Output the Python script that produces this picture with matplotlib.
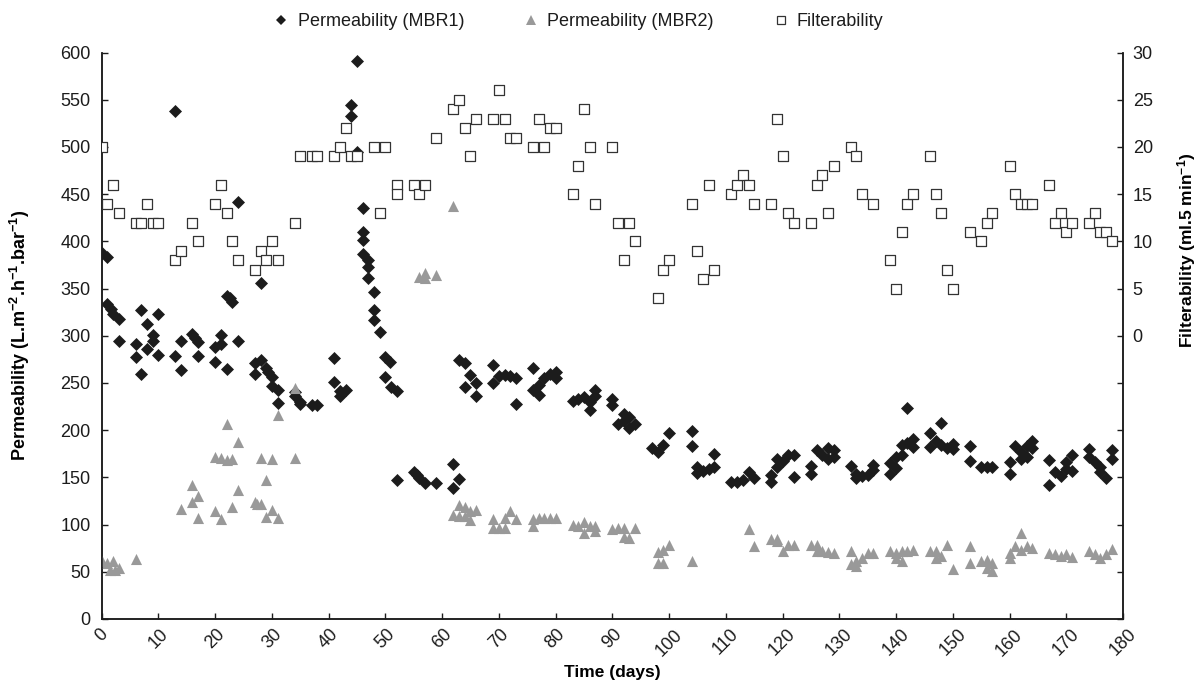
#!/usr/bin/env python3
"""Permeability of both MBRs and sludge filterability over the run."""

import matplotlib

matplotlib.use("Agg")
import matplotlib.pyplot as plt
from matplotlib.lines import Line2D


INK = "#1c1c1c"
GREY = "#999999"
SQUARE_EDGE = "#333333"
FONT = ["Liberation Sans", "DejaVu Sans"]

# Permeability, MBR1 (L.m-2.h-1.bar-1)
mbr1_day = [
    0, 1, 1, 1.6, 2, 3, 3, 6, 6, 7, 7, 8, 8, 9, 9, 10, 10, 13, 13, 14, 14,
    16, 16.4, 17, 17, 20, 20, 21, 21, 22, 22, 22.6, 23, 24, 24, 27, 27, 28,
    28, 29, 29.4, 30, 30, 31, 31, 34, 34, 35, 35, 37, 38, 41, 41, 42, 42, 43,
    44, 44, 45, 45, 46, 46, 46, 46, 47, 47, 47, 48, 48, 48, 49, 50, 50.8, 50,
    51, 52, 52, 55, 55.5, 56, 57, 59, 62, 63, 62, 63, 64, 65, 64, 66, 66, 69,
    69, 70, 71, 72, 73, 73, 76, 76, 77, 77, 78, 79, 80, 80, 83, 84, 85, 86,
    86, 87, 87, 90, 90, 91, 92, 92, 93, 93, 94, 97, 98, 99, 100, 104, 104,
    105, 105, 106, 107, 108, 108, 111, 112, 113, 114, 115, 118, 118, 119, 119,
    120, 121, 122, 122, 125, 125, 126, 127, 128, 128, 129, 129, 132, 133, 133,
    134, 135, 136, 136, 139, 139, 140, 140, 141, 141, 142, 142, 143, 143, 146,
    146, 147, 148, 148, 149, 150, 150, 153, 153, 155, 156, 157, 160, 160, 161,
    162, 162, 163, 163, 164, 164, 167, 167, 168, 169, 170, 170, 171, 171, 174,
    174, 175, 176, 176, 177, 178, 178,
]
mbr1_perm = [
    388, 383, 334, 328, 323, 318, 295, 291, 278, 327, 259, 312, 286, 301, 295,
    323, 280, 538, 279, 294, 264, 302, 298, 293, 279, 288, 272, 301, 291, 265,
    342, 340, 336, 442, 295, 271, 260, 356, 274, 266, 262, 256, 247, 243, 229,
    240, 236, 230, 228, 227, 227, 276, 251, 236, 241, 243, 545, 533, 591, 495,
    435, 410, 401, 387, 380, 373, 361, 346, 327, 317, 304, 278, 272, 256, 246,
    241, 147, 156, 152, 149, 144, 144, 164, 148, 139, 274, 271, 258, 246, 250,
    236, 269, 250, 257, 258, 257, 255, 228, 266, 243, 237, 248, 255, 260, 262,
    255, 231, 233, 235, 221, 230, 243, 236, 233, 227, 207, 217, 210, 214, 202,
    207, 181, 177, 184, 197, 199, 183, 161, 155, 157, 159, 161, 175, 145, 145,
    147, 156, 149, 145, 153, 161, 169, 167, 174, 174, 150, 162, 154, 179, 174,
    181, 170, 179, 172, 162, 154, 149, 151, 153, 163, 158, 165, 154, 172, 160,
    184, 174, 223, 186, 191, 182, 197, 182, 189, 208, 184, 181, 185, 180, 183,
    167, 161, 161, 161, 166, 154, 183, 177, 169, 183, 172, 189, 181, 168, 142,
    156, 151, 166, 159, 174, 157, 180, 172, 166, 161, 156, 149, 179, 169,
]

# Permeability, MBR2 (L.m-2.h-1.bar-1)
mbr2_day = [
    0, 1, 2, 1.5, 2.3, 3, 6, 14, 16, 16, 17, 17, 20, 20, 21, 21, 22, 22, 23,
    23, 24, 24, 27, 27.3, 28, 28, 29, 29, 30, 30, 31, 31, 34, 34, 56, 57, 57,
    59, 62, 62, 63, 63, 64, 64, 65, 65, 66, 69, 69, 70, 71, 71, 72, 73, 76,
    76, 77, 78, 79, 80, 83, 84, 85, 85, 86, 87, 87, 90, 91, 92, 92, 93, 94,
    98, 99, 100, 98, 99, 104, 114, 115, 118, 119, 119, 120, 121, 122, 125,
    126, 126, 127, 128, 129, 132, 132, 133, 133, 134, 135, 136, 139, 140, 140,
    141, 141, 142, 143, 146, 147, 147, 148, 149, 150, 153, 153, 155, 156, 156,
    157, 157, 160, 160, 161, 162, 162, 163, 164, 167, 168, 169, 170, 171, 174,
    175, 176, 177, 178,
]
mbr2_perm = [
    61, 59, 61, 52, 52, 54, 64, 116, 142, 124, 130, 107, 172, 114, 171, 106,
    207, 168, 170, 119, 187, 137, 124, 122, 122, 171, 147, 108, 170, 115, 107,
    216, 245, 171, 362, 366, 361, 364, 438, 110, 121, 109, 119, 109, 114, 105,
    115, 106, 96, 96, 107, 96, 114, 106, 106, 98, 107, 107, 107, 107, 100, 98,
    103, 91, 98, 99, 93, 95, 96, 96, 87, 86, 96, 71, 73, 78, 59, 59, 61, 95,
    77, 85, 85, 83, 72, 78, 78, 78, 78, 72, 72, 71, 70, 72, 58, 61, 56, 65,
    70, 70, 72, 70, 65, 72, 61, 72, 73, 72, 72, 65, 67, 78, 53, 77, 59, 61,
    63, 54, 59, 51, 70, 65, 77, 91, 73, 77, 75, 70, 69, 67, 69, 66, 72, 69,
    65, 69, 74,
]

# Filterability (ml.5 min-1)
filt_day = [
    0, 1, 2, 3, 6, 7, 8, 9, 10, 13, 14, 16, 17, 20, 21, 22, 23, 24, 27, 28,
    29, 30, 31, 34, 35, 37, 38, 41, 42, 43, 44, 45, 48, 49, 50, 52, 52, 55,
    56, 57, 59, 62, 63, 64, 65, 66, 69, 70, 71, 72, 73, 76, 77, 78, 79, 80,
    83, 84, 85, 86, 87, 90, 91, 92, 93, 94, 98, 99, 100, 104, 105, 106, 107,
    108, 111, 112, 113, 114, 115, 118, 119, 120, 121, 122, 125, 126, 127, 128,
    129, 132, 133, 134, 136, 139, 140, 141, 142, 143, 146, 147, 148, 149, 150,
    153, 155, 156, 157, 160, 161, 162, 163, 164, 167, 168, 169, 170, 171, 174,
    175, 176, 177, 178,
]
filt_value = [
    20, 14, 16, 13, 12, 12, 14, 12, 12, 8, 9, 12, 10, 14, 16, 13, 10, 8, 7, 9,
    8, 10, 8, 12, 19, 19, 19, 19, 20, 22, 19, 19, 20, 13, 20, 16, 15, 16, 15,
    16, 21, 24, 25, 22, 19, 23, 23, 26, 23, 21, 21, 20, 23, 20, 22, 22, 15,
    18, 24, 20, 14, 20, 12, 8, 12, 10, 4, 7, 8, 14, 9, 6, 16, 7, 15, 16, 17,
    16, 14, 14, 23, 19, 13, 12, 12, 16, 17, 13, 18, 20, 19, 15, 14, 8, 5, 11,
    14, 15, 19, 15, 13, 7, 5, 11, 10, 12, 13, 18, 15, 14, 14, 14, 16, 12, 13,
    11, 12, 12, 13, 11, 11, 10,
]

x_ticks = list(range(0, 181, 10))
left_ticks = list(range(0, 601, 50))
right_ticks = list(range(-30, 31, 5))


def style_axis(ax) -> None:
    for side in ("left", "bottom", "right"):
        ax.spines[side].set_color(INK)
        ax.spines[side].set_linewidth(1.1)
    ax.spines["top"].set_visible(False)
    ax.tick_params(direction="in", length=4, width=1.0, colors=INK, labelsize=13)


def main() -> None:
    plt.rcParams.update(
        {
            "font.family": FONT,
            "text.color": INK,
            "mathtext.fontset": "custom",
            "mathtext.rm": "Liberation Sans",
            "mathtext.bf": "Liberation Sans:bold",
        }
    )

    fig = plt.figure(figsize=(11.99, 6.82), dpi=100)
    ax = fig.add_axes([0.0848, 0.0924, 0.8518, 0.8305])

    ax.scatter(mbr1_day, mbr1_perm, marker="D", s=44, color=INK,
               linewidths=0, zorder=3)
    ax.scatter(mbr2_day, mbr2_perm, marker="^", s=64, color=GREY,
               linewidths=0, zorder=4)

    ax.set_xlim(0, 180)
    ax.set_ylim(0, 600)
    ax.set_xticks(x_ticks)
    ax.set_xticklabels([str(t) for t in x_ticks], rotation=45, ha="center")
    ax.set_yticks(left_ticks)
    style_axis(ax)
    ax.tick_params(axis="y", pad=8)
    ax.tick_params(axis="x", pad=5)
    ax.set_xlabel("Time (days)", fontsize=12.5, fontweight="bold", labelpad=4)
    ax.set_ylabel(
        r"Permeability (L.m$\mathbf{^{-2}}$.h$\mathbf{^{-1}}$.bar$\mathbf{^{-1}}$)",
        fontsize=13,
        fontweight="bold",
        labelpad=20,
    )

    # filterability sits on the upper half of the frame: 0-30 maps onto 300-600
    ax2 = ax.twinx()
    ax2.scatter(filt_day, filt_value, marker="s", s=46, facecolor="white",
                edgecolor=SQUARE_EDGE, linewidths=0.9, zorder=5)
    ax2.set_ylim(-30, 30)
    ax2.set_yticks(right_ticks)
    ax2.set_yticklabels([str(t) if t >= 0 else "" for t in right_ticks])
    style_axis(ax2)
    ax2.tick_params(axis="y", pad=7)
    ax2.set_ylabel(r"Filterability (ml.5 min$\mathbf{^{-1}}$)", fontsize=12.5,
                   fontweight="bold", rotation=90)
    ax2.yaxis.set_label_coords(1.051, 0.65)

    handles = [
        Line2D([], [], linestyle="none", marker="D", markersize=5,
               color=INK, markeredgewidth=0),
        Line2D([], [], linestyle="none", marker="^", markersize=6.5,
               color=GREY, markeredgewidth=0),
        Line2D([], [], linestyle="none", marker="s", markersize=5.5,
               markerfacecolor="white", markeredgecolor=SQUARE_EDGE,
               markeredgewidth=0.9),
    ]
    fig.legend(
        handles,
        ["Permeability (MBR1)", "Permeability (MBR2)", "Filterability"],
        loc="upper center",
        bbox_to_anchor=(0.482, 1.005),
        ncol=3,
        frameon=False,
        fontsize=13,
        handletextpad=0.4,
        columnspacing=3.2,
        handlelength=1.0,
    )

    fig.savefig("out.png", dpi=100)
    plt.close(fig)


if __name__ == "__main__":
    main()
